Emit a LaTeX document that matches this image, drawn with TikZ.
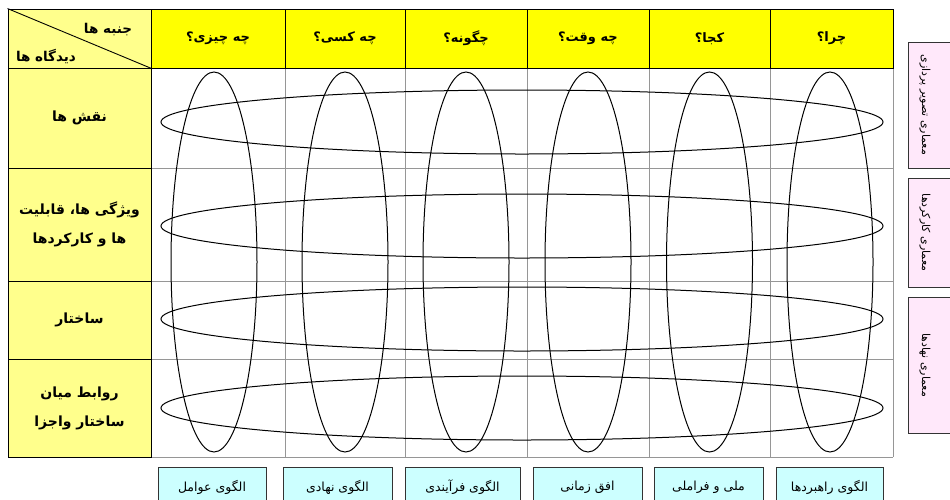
\documentclass[tikz,border=0pt]{standalone}
\usepackage{fontspec}
\newfontfamily\farsi[Script=Arabic]{DejaVu Sans}
\TeXXeTstate=1
\newcommand{\fa}[1]{\beginR #1\endR}
\definecolor{headyellow}{RGB}{255,255,0}
\definecolor{sideyellow}{RGB}{255,255,140}
\definecolor{modelcyan}{RGB}{204,255,255}
\definecolor{archpink}{RGB}{255,232,250}
\definecolor{gridgray}{RGB}{150,150,150}
\tikzset{
  headcell/.style={draw, fill=headyellow, line width=0.9pt, minimum height=59, inner sep=0pt,
    font=\farsi\bfseries\fontsize{13}{16}\selectfont},
  sidecell/.style={draw, fill=sideyellow, line width=0.9pt, minimum width=143, inner sep=0pt, align=center,
    font=\farsi\bfseries\fontsize{14}{29}\selectfont},
  sidetext/.style={inner sep=0pt, font=\farsi\bfseries\fontsize{13.5}{16}\selectfont},
  gridline/.style={draw=gridgray, line width=0.8pt},
  ovalline/.style={draw=black, line width=1pt},
  modelbox/.style={draw=black!80, fill=modelcyan, line width=0.8pt, minimum height=40, inner sep=0pt,
    font=\farsi\fontsize{12.5}{14}\selectfont},
  archbox/.style={draw=black!80, fill=archpink, line width=0.8pt},
  archtext/.style={rotate=-90, inner sep=0pt, font=\farsi\fontsize{11}{13}\selectfont}
}
\begin{document}
\begin{tikzpicture}[x=1pt, y=-1pt]
  \useasboundingbox (0,0) rectangle (950,499);
  \clip (0,0) rectangle (950,499);
  % body grid
  \foreach \x in {285,405,527,649,770,893}
    \draw[gridline] (\x,68) -- (\x,457);
  \foreach \y in {168,281,359,457}
    \draw[gridline] (151,\y) -- (893,\y);
  % header row (aspects)
  \foreach \cx/\cw/\lbl [count=\i] in {218/134/چه چیزی؟, 345/120/چه کسی؟, 466/122/چگونه؟,
      588/122/چه وقت؟, 709.5/121/کجا؟, 831.5/123/چرا؟}
    \node[headcell, minimum width=\cw] (head\i) at (\cx,38.5) {\fa{\lbl}};
  % corner cell
  \node[sidecell, minimum height=59] (corner) at (79.5,38.5) {};
  \draw[line width=0.9pt] (corner.north west) -- (corner.south east);
  \node[sidetext] (aspects) at (108,30) {\fa{جنبه ها}};
  \node[sidetext] (views) at (46,56) {\fa{دیدگاه ها}};
  % left column (views)
  \node[sidecell, minimum height=100] (view1) at (79.5,118) {\fa{نقش ها}};
  \node[sidecell, minimum height=113] (view2) at (79.5,224.5)
    {\fa{ویژگی ها، قابلیت}\\\fa{ها و کارکردها}};
  \node[sidecell, minimum height=78] (view3) at (79.5,320) {\fa{ساختار}};
  \node[sidecell, minimum height=98] (view4) at (79.5,408)
    {\fa{روابط میان}\\\fa{ساختار واجزا}};
  % vertical ovals
  \foreach \cx in {214,345,466,588,709.5,830}
    \draw[ovalline] (\cx,262) ellipse [x radius=43, y radius=190];
  % horizontal ovals
  \foreach \cy in {122,226,319,408}
    \draw[ovalline] (522,\cy) ellipse [x radius=361, y radius=32];
  % architectures on the right
  \draw[archbox] (908,42) rectangle (960,168);
  \node[archtext] (arch1) at (925,105) {\fa{معماری تصویر پردازی}};
  \draw[archbox] (908,178) rectangle (960,287);
  \node[archtext] (arch2) at (925,232.5) {\fa{معماری کارکردها}};
  \draw[archbox] (908,297) rectangle (960,433);
  \node[archtext] (arch3) at (925,365) {\fa{معماری نهادها}};
  % models at the bottom
  \foreach \cx/\cw/\lbl [count=\i] in {212/108/الگوی عوامل, 337.5/109/الگوی نهادی, 462.5/115/الگوی فرآیندی,
      587.5/109/افق زمانی, 708.5/109/ملی و فراملی, 829.5/107/الگوی راهبردها}
    \node[modelbox, minimum width=\cw] (model\i) at (\cx,487) {\fa{\lbl}};
\end{tikzpicture}
\end{document}
